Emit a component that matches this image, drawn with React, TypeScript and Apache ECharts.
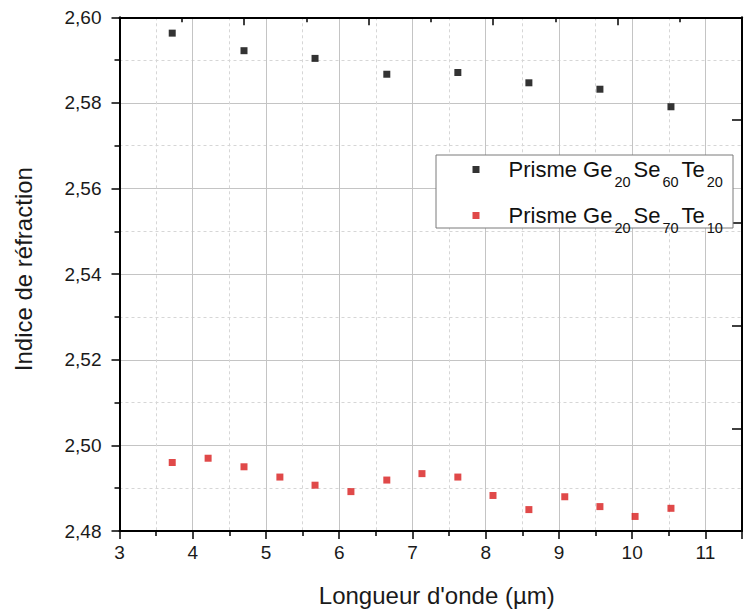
import React, { useEffect, useRef } from "react";
import * as echarts from "echarts";

const blackName = "Prisme Ge20Se60Te20";
const redName = "Prisme Ge20Se70Te10";
const blackWavelengths = [3.72, 4.7, 5.67, 6.65, 7.62, 8.59, 9.56, 10.53];
const blackIndex = [2.5963, 2.5922, 2.5904, 2.5867, 2.5871, 2.5847, 2.5832, 2.5791];
const redWavelengths = [3.72, 4.21, 4.7, 5.19, 5.67, 6.16, 6.65, 7.13, 7.62, 8.1, 8.59, 9.08, 9.56, 10.04, 10.53];
const redIndex = [2.496, 2.497, 2.495, 2.4926, 2.4907, 2.4892, 2.4919, 2.4934, 2.4926, 2.4883, 2.485, 2.488, 2.4857, 2.4834, 2.4853];

const FONT = "Arial, 'Liberation Sans', sans-serif";

export default function App() {
  const ref = useRef<HTMLDivElement>(null);
  useEffect(() => {
    if (!ref.current) return;
    const chart = echarts.init(ref.current, null, { renderer: "svg" });
    const blackData = blackWavelengths.map((x, i) => [x, blackIndex[i]]);
    const redData = redWavelengths.map((x, i) => [x, redIndex[i]]);
    const majorGrid = { show: true, lineStyle: { color: "#c4c4c4", width: 1, type: "solid" as const } };
    const minorGrid = { show: true, lineStyle: { color: "#d6d6d6", width: 1, type: [3, 3] as any } };
    chart.setOption({
      animation: false,
      backgroundColor: "#ffffff",
      grid: { left: 119.5, top: 17.3, right: -8.6, bottom: 78.7, containLabel: false },
      graphic: [
        {
          type: "rect",
          z: 50,
          shape: { x: 436, y: 155, width: 297, height: 73 },
          style: { fill: "#ffffff", stroke: "#7a7a7a", lineWidth: 1 },
        },
      ],
      legend: {
        z: 60,
        orient: "vertical",
        left: 472.5,
        top: 158.5,
        padding: 0,
        itemGap: 15,
        itemWidth: 7,
        itemHeight: 7,
        icon: "rect",
        selectedMode: false,
        data: [blackName, redName],
        formatter: (name: string) => "{g|}" + name.replace(/(\D+)(\d+)/g, "{n|$1}{s|$2}"),
        textStyle: {
          fontFamily: FONT,
          color: "#111",
          rich: {
            g: { width: 24 },
            n: { fontSize: 22, verticalAlign: "top", fontFamily: FONT, color: "#111" },
            s: { fontSize: 14.5, lineHeight: 10, padding: [16, 3, 0, 2], verticalAlign: "top", fontFamily: FONT, color: "#111" },
          },
        },
      },
      xAxis: [
        {
          type: "value",
          min: 3,
          max: 11.5,
          interval: 1,
          position: "bottom",
          name: "Longueur d'onde (µm)",
          nameLocation: "middle",
          nameGap: 52,
          nameTextStyle: { fontFamily: FONT, fontSize: 24, color: "#1a1a1a", padding: [0, 0, 0, 12] },
          axisLine: { show: true, onZero: false, lineStyle: { color: "#000", width: 2 } },
          axisTick: { show: true, inside: false, length: 8, lineStyle: { color: "#000", width: 1.5 } },
          minorTick: { show: true, splitNumber: 2, length: 5, lineStyle: { color: "#000", width: 1.5 } },
          axisLabel: {
            margin: 12,
            fontFamily: FONT,
            fontSize: 19,
            color: "#1a1a1a",
            formatter: (v: number) => (Number.isInteger(v) ? String(v) : ""),
          },
          splitLine: majorGrid,
          minorSplitLine: minorGrid,
        },
        {
          type: "value",
          min: 0,
          max: 10,
          interval: 2,
          position: "top",
          axisLine: { show: true, onZero: false, lineStyle: { color: "#000", width: 2 } },
          axisTick: { show: true, inside: true, length: 8, lineStyle: { color: "#000", width: 1.5 } },
          minorTick: { show: true, splitNumber: 2, length: 5, lineStyle: { color: "#000", width: 1.5 } },
          axisLabel: { show: false },
          splitLine: { show: false },
        },
      ],
      yAxis: [
        {
          type: "value",
          min: 2.48,
          max: 2.6,
          interval: 0.02,
          position: "left",
          name: "Indice de réfraction",
          nameLocation: "middle",
          nameGap: 84,
          nameTextStyle: { fontFamily: FONT, fontSize: 24, color: "#1a1a1a", padding: [0, 0, 0, 10] },
          axisLine: { show: true, onZero: false, lineStyle: { color: "#000", width: 2 } },
          axisTick: { show: true, inside: false, length: 8, lineStyle: { color: "#000", width: 1.5 } },
          minorTick: { show: true, splitNumber: 2, length: 5, lineStyle: { color: "#000", width: 1.5 } },
          axisLabel: {
            margin: 18,
            fontFamily: FONT,
            fontSize: 19,
            color: "#1a1a1a",
            formatter: (v: number) => v.toFixed(2).replace(".", ","),
          },
          splitLine: majorGrid,
          minorSplitLine: minorGrid,
        },
        {
          type: "value",
          min: 0,
          max: 5,
          interval: 1,
          position: "right",
          axisLine: { show: true, onZero: false, lineStyle: { color: "#000", width: 2 } },
          axisTick: { show: true, inside: true, length: 10, lineStyle: { color: "#000", width: 1.5 } },
          axisLabel: { show: false },
          splitLine: { show: false },
        },
      ],
      series: [
        {
          name: blackName,
          type: "scatter",
          xAxisIndex: 0,
          yAxisIndex: 0,
          symbol: "rect",
          symbolSize: 7,
          itemStyle: { color: "#000000" },
          data: blackData,
          z: 3,
        },
        {
          name: redName,
          type: "scatter",
          xAxisIndex: 0,
          yAxisIndex: 0,
          symbol: "rect",
          symbolSize: 7,
          itemStyle: { color: "#d81c1c" },
          data: redData,
          z: 3,
        },
      ],
    });
    return () => chart.dispose();
  }, []);
  return <div ref={ref} style={{ width: 745, height: 612, position: "absolute", left: 0, top: 0 }} />;
}
